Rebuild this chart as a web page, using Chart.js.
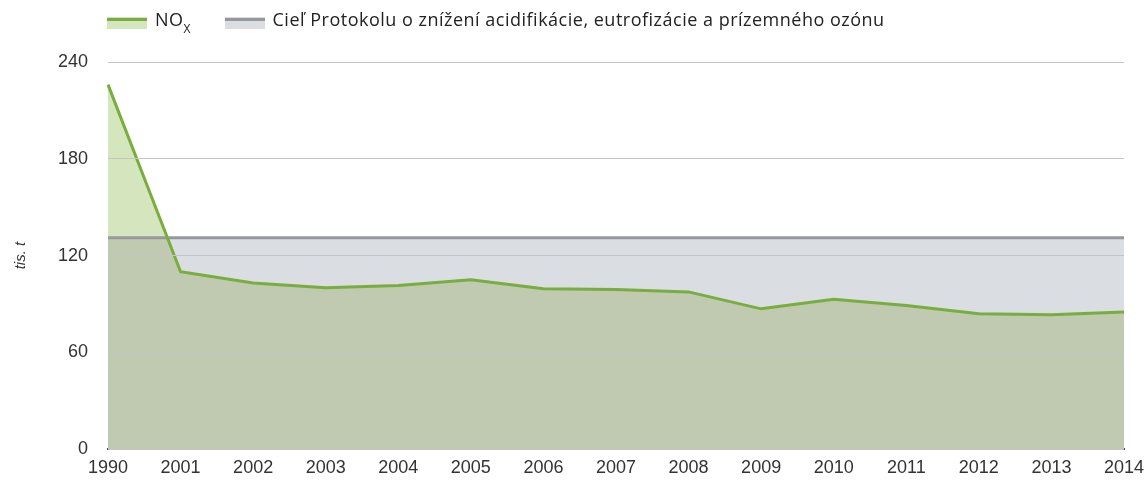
<!DOCTYPE html>
<html lang="sk">
<head>
<meta charset="utf-8">
<title>NOx</title>
<script src="https://cdn.jsdelivr.net/npm/chart.js@4/dist/chart.umd.min.js"></script>
<style>
  html, body { margin: 0; padding: 0; background: #fff; }
  #wrap { position: relative; width: 1147px; height: 480px; }
  #legend {
    position: absolute; left: 107px; top: 7px;
    display: flex; align-items: center;
    font-family: "Open Sans", "Noto Sans", sans-serif; font-size: 18px; color: #222;
    letter-spacing: 0.5px;
  }
  .item { display: flex; align-items: center; }
  .item:first-child { margin-right: 34px; }
  .swatch { width: 40px; height: 12px; margin-right: 8px; margin-top: 8px; position: relative; }
  .swatch::before {
    content: ""; position: absolute; left: 0; right: 0; top: 1px; height: 3px;
    background: var(--line);
  }
  sub { font-size: 12px; vertical-align: -7px; line-height: 0; letter-spacing: 0; }
</style>
</head>
<body>
<div id="wrap">
  <div id="legend"></div>
  <canvas id="chart" width="1147" height="480"></canvas>
</div>
<script>
const years = ["1990", "2001", "2002", "2003", "2004", "2005", "2006", "2007",
  "2008", "2009", "2010", "2011", "2012", "2013", "2014"];
const noxValues = [226, 110, 103, 100, 101.5, 105, 99.5, 99, 97.5, 87, 93, 89, 84, 83.4, 85];
const targetValues = [131, 131, 131, 131, 131, 131, 131, 131, 131, 131, 131, 131, 131, 131, 131];
const yTicks = [0, 60, 120, 180, 240];
const noxLabel = "NO<sub>X</sub>";
const targetLabel = "Cieľ Protokolu o znížení acidifikácie, eutrofizácie a prízemného ozónu";
const yTitle = "tis. t";

const GREEN_LINE = "#79ad3d";
const GREEN_FILL = "#d5e6bf";
const OVERLAP_FILL = "#bfcab0";
const GRAY_LINE = "#96989f";
const GRAY_FILL = "#dadde1";

// green area turns darker where it sits under the target band
function noxFill(context) {
  const chart = context.chart;
  const area = chart.chartArea;
  if (!area) return GREEN_FILL;
  const y = chart.scales.y.getPixelForValue(targetValues[0]);
  const stop = Math.min(Math.max((y - area.top) / (area.bottom - area.top), 0), 1);
  const gradient = chart.ctx.createLinearGradient(0, area.top, 0, area.bottom);
  gradient.addColorStop(0, GREEN_FILL);
  gradient.addColorStop(stop, GREEN_FILL);
  gradient.addColorStop(stop, OVERLAP_FILL);
  gradient.addColorStop(1, OVERLAP_FILL);
  return gradient;
}

const legendEl = document.getElementById("legend");
for (const [label, line, fill] of [[noxLabel, GREEN_LINE, GREEN_FILL], [targetLabel, GRAY_LINE, GRAY_FILL]]) {
  const item = document.createElement("div");
  item.className = "item";
  item.innerHTML = `<span class="swatch" style="background:${fill};--line:${line}"></span><span>${label}</span>`;
  legendEl.appendChild(item);
}

const tickFont = { family: "'Liberation Sans', Arial, sans-serif", size: 18 };

new Chart(document.getElementById("chart"), {
  type: "line",
  data: {
    labels: years,
    datasets: [
      {
        label: "NOx",
        data: noxValues,
        borderColor: GREEN_LINE,
        borderWidth: 3,
        backgroundColor: noxFill,
        fill: "origin",
        pointRadius: 0,
        tension: 0,
      },
      {
        label: targetLabel,
        data: targetValues,
        borderColor: GRAY_LINE,
        borderWidth: 3,
        backgroundColor: GRAY_FILL,
        fill: "origin",
        pointRadius: 0,
        tension: 0,
      },
    ],
  },
  options: {
    responsive: false,
    animation: false,
    layout: { padding: { left: 12, right: 23, top: 62, bottom: 0 } },
    scales: {
      x: {
        offset: false,
        grid: { display: false },
        border: { color: "#4a4f44", width: 2 },
        ticks: { color: "#333", font: tickFont, padding: 0, maxRotation: 0, autoSkip: false },
        afterFit: (scale) => { scale.height = 29; },
      },
      y: {
        min: 0,
        max: 240,
        afterBuildTicks: (scale) => { scale.ticks = yTicks.map((v) => ({ value: v })); },
        grid: { color: "#c4c4c4", lineWidth: 1, drawTicks: false, z: 1 },
        border: { display: false },
        ticks: { color: "#333", font: tickFont, padding: 20 },
        title: {
          display: true,
          text: yTitle,
          color: "#333",
          font: { family: "'Liberation Sans', Arial, sans-serif", size: 15, style: "italic" },
          padding: { top: 0, bottom: 0 },
        },
        afterFit: (scale) => { scale.width = 96; },
      },
    },
    plugins: {
      legend: { display: false },
      tooltip: { enabled: false },
      filler: { drawTime: "beforeDatasetsDraw" },
    },
  },
});
</script>
</body>
</html>
